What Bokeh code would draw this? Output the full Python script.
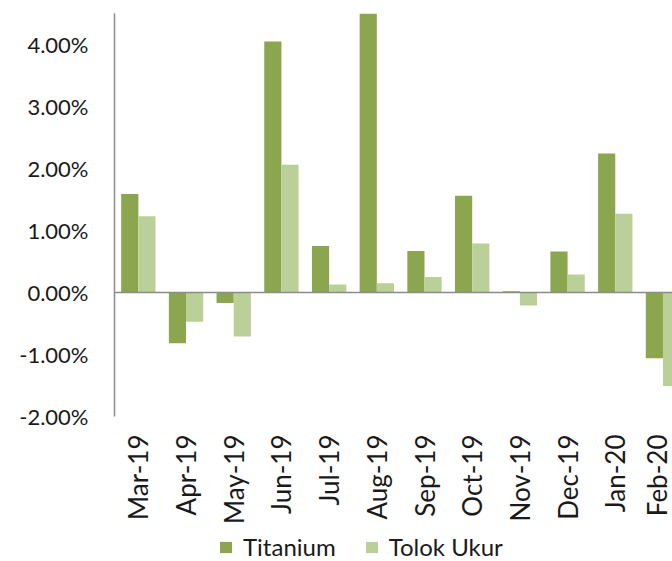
import math
from bokeh.plotting import figure
from bokeh.layouts import column
from bokeh.models import (Range1d, FixedTicker, PrintfTickFormatter, Span, Legend,
                          LegendItem, ColumnDataSource)
from bokeh.transform import dodge
from bokeh.embed import file_html
from bokeh.resources import INLINE

months = ["Mar-19", "Apr-19", "May-19", "Jun-19", "Jul-19", "Aug-19",
          "Sep-19", "Oct-19", "Nov-19", "Dec-19", "Jan-20", "Feb-20"]
titanium = [1.59, -0.82, -0.17, 4.05, 0.75, 4.52, 0.67, 1.56, 0.02, 0.66, 2.24, -1.06]
tolok_ukur = [1.23, -0.47, -0.71, 2.06, 0.13, 0.15, 0.25, 0.79, -0.21, 0.29, 1.27, -1.51]
y_ticks = [-2, -1, 0, 1, 2, 3, 4]
series_names = ["Titanium", "Tolok Ukur"]
series_colors = ["#8BA64E", "#BBD098"]

FONT = "Lato"
TXT = "#1A1A1A"
centers = [i + 0.5 for i in range(len(months))]
src = ColumnDataSource(dict(x=centers, t=titanium, u=tolok_ukur))

p = figure(width=672, height=531, output_backend="svg", toolbar_location=None,
           x_range=Range1d(0, 11.70), y_range=Range1d(-2, 4.5),
           min_border_left=114, min_border_right=0, min_border_top=13,
           min_border_bottom=115)
p.outline_line_color = None
p.xgrid.visible = False
p.ygrid.visible = False
p.background_fill_color = "white"
p.border_fill_color = "white"

bw = 0.36
p.vbar(x=dodge("x", -0.18, range=p.x_range), top="t", bottom=0, width=bw,
       source=src, fill_color=series_colors[0], line_color=None)
p.vbar(x=dodge("x", 0.18, range=p.x_range), top="u", bottom=0, width=bw,
       source=src, fill_color=series_colors[1], line_color=None)

p.add_layout(Span(location=0, dimension="width", line_color="#8C8C8C", line_width=1.5))

# y axis
ya = p.yaxis[0]
ya.ticker = FixedTicker(ticks=y_ticks)
ya.formatter = PrintfTickFormatter(format="%.2f%%")
ya.axis_line_color = "#8C8C8C"
ya.axis_line_width = 1.5
ya.major_tick_line_color = None
ya.minor_tick_line_color = None
ya.major_tick_out = 0
ya.major_tick_in = 0
ya.major_label_standoff = 26
ya.major_label_text_font = FONT
ya.major_label_text_font_size = "22px"
ya.major_label_text_color = TXT

# x axis
xa = p.xaxis[0]
xa.ticker = FixedTicker(ticks=centers)
xa.major_label_overrides = {c: m for c, m in zip(centers, months)}
xa.axis_line_color = None
xa.major_tick_line_color = None
xa.minor_tick_line_color = None
xa.major_tick_out = 0
xa.major_tick_in = 0
xa.major_label_standoff = 18
xa.major_label_orientation = math.pi / 2
xa.major_label_text_font = FONT
xa.major_label_text_font_size = "26px"
xa.major_label_text_color = TXT

# legend strip (separate figure, the bars there lie outside its ranges)
q = figure(width=672, height=30, output_backend="svg", toolbar_location=None,
           x_range=Range1d(0, 1), y_range=Range1d(100, 101),
           min_border=0, x_axis_location=None, y_axis_location=None)
q.outline_line_color = None
q.xgrid.visible = False
q.ygrid.visible = False
q1 = q.vbar(x="x", top="t", bottom=0, width=bw, source=src,
            fill_color=series_colors[0], line_color=None)
q2 = q.vbar(x="x", top="u", bottom=0, width=bw, source=src,
            fill_color=series_colors[1], line_color=None)
legend = Legend(items=[LegendItem(label=series_names[0], renderers=[q1]),
                       LegendItem(label=series_names[1], renderers=[q2])],
                orientation="horizontal", location=(104, 0), padding=0, margin=0,
                spacing=28, label_standoff=10, glyph_width=15, glyph_height=14,
                border_line_color=None, background_fill_alpha=0,
                label_text_font=FONT, label_text_font_size="24px",
                label_text_color=TXT)
q.add_layout(legend, "center")

open("out.html", "w").write(file_html(column(p, q, spacing=0), INLINE))
